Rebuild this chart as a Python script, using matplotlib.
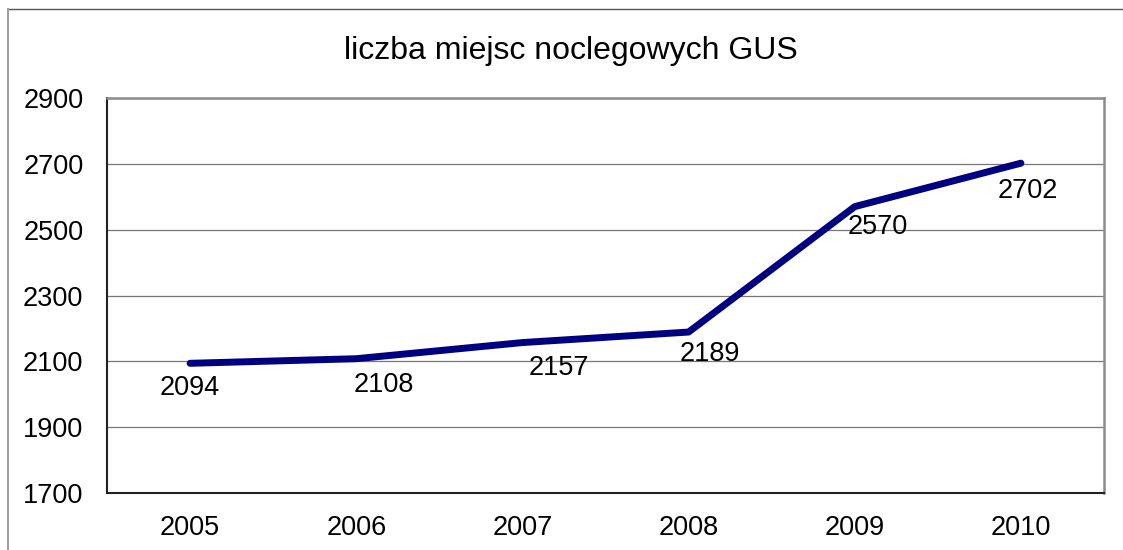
import matplotlib
matplotlib.use("Agg")
import matplotlib.pyplot as plt
from matplotlib.lines import Line2D

years = ["2005", "2006", "2007", "2008", "2009", "2010"]
beds = [2094, 2108, 2157, 2189, 2570, 2702]
title = "liczba miejsc noclegowych GUS"
yticks = [1700, 1900, 2100, 2300, 2500, 2700, 2900]

# label offsets in pixels (dx right, dy down)
label_offsets = [(0, 25), (28, 26), (36, 25), (21, 22), (23, 20), (7, 28)]

plt.rcParams['font.family'] = ['Liberation Sans', 'DejaVu Sans']

W, H = 1123, 550
fig = plt.figure(figsize=(W / 100, H / 100), dpi=100)
fig.patch.set_facecolor('white')

L, R, T, B = 107, 1104, 98, 493
ax = fig.add_axes([L / W, 1 - B / H, (R - L) / W, (B - T) / H])

x = list(range(len(years)))
ax.plot(x, beds, color='#000080', linewidth=5.0, solid_capstyle='round',
        solid_joinstyle='round', zorder=3)

ax.set_xlim(-0.5, len(years) - 0.5)
ax.set_ylim(yticks[0], yticks[-1])
ax.set_yticks(yticks)
ax.set_yticklabels([str(t) for t in yticks])
ax.set_xticks(x)
ax.set_xticklabels(years)
ax.tick_params(axis='both', length=0, labelsize=19.5, colors='black')
ax.tick_params(axis='y', pad=17)
ax.tick_params(axis='x', pad=16)
ax.yaxis.grid(True, color='#777777', linewidth=0.9)
ax.set_axisbelow(True)

for s in ['left', 'bottom']:
    ax.spines[s].set_color('#222222')
    ax.spines[s].set_linewidth(1.5)
for s in ['top', 'right']:
    ax.spines[s].set_color('#8c8c8c')
    ax.spines[s].set_linewidth(1.8)

for xi, v, (dx, dy) in zip(x, beds, label_offsets):
    ax.annotate(str(v), (xi, v), xytext=(dx * 0.72, -dy * 0.72),
                textcoords='offset points', ha='center', va='center',
                fontsize=19.5, color='black', zorder=4)

fig.text(571 / W, 1 - 59 / H, title, ha='center', va='baseline',
         fontsize=23, color='black')

# outer chart frame
fig.add_artist(Line2D([8 / W, 1], [1 - 8.5 / H, 1 - 8.5 / H],
                      transform=fig.transFigure, color='#555555', linewidth=1.0))
fig.add_artist(Line2D([7.5 / W, 7.5 / W], [0, 1 - 8.5 / H],
                      transform=fig.transFigure, color='#a0a0a0', linewidth=1.5))

fig.savefig('out.png', dpi=100, facecolor='white')
